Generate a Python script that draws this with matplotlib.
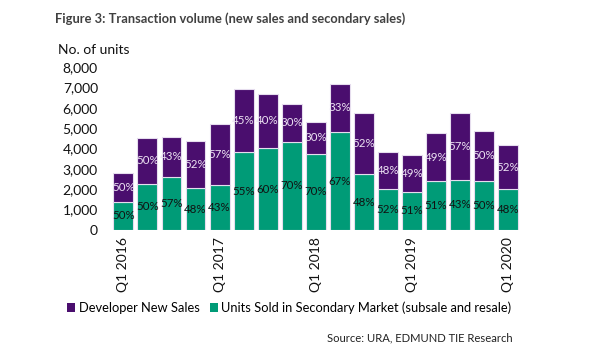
import matplotlib
matplotlib.use("Agg")
import matplotlib.pyplot as plt
import numpy as np

plt.rcParams['font.family'] = ['Lato', 'DejaVu Sans']

quarters = ["Q1 2016", "Q2 2016", "Q3 2016", "Q4 2016",
            "Q1 2017", "Q2 2017", "Q3 2017", "Q4 2017",
            "Q1 2018", "Q2 2018", "Q3 2018", "Q4 2018",
            "Q1 2019", "Q2 2019", "Q3 2019", "Q4 2019",
            "Q1 2020"]
secondary = [1400, 2270, 2600, 2060, 2220, 3820, 4020, 4330, 3740,
             4810, 2750, 2010, 1890, 2400, 2470, 2420, 2010]
total = [2815, 4530, 4580, 4360, 5190, 6900, 6680, 6190, 5320,
         7180, 5740, 3840, 3700, 4740, 5740, 4860, 4150]
developer = [t - s for t, s in zip(total, secondary)]
dev_pct = ["50%", "50%", "43%", "52%", "57%", "45%", "40%", "30%", "30%",
           "33%", "52%", "48%", "49%", "49%", "57%", "50%", "52%"]
sec_pct = ["50%", "50%", "57%", "48%", "43%", "55%", "60%", "70%", "70%",
           "67%", "48%", "52%", "51%", "51%", "43%", "50%", "48%"]
yticks = [0, 1000, 2000, 3000, 4000, 5000, 6000, 7000, 8000]

purple = "#4A0E6E"
green = "#009B77"

fig = plt.figure(figsize=(5.99, 3.60), dpi=100)
ax = fig.add_axes([0.182, 0.361, 0.69, 0.453])

x = np.arange(len(quarters))
w = 0.83
b1 = ax.bar(x, secondary, width=w, color=green, edgecolor="#E6DDEE", linewidth=0.8)
b2 = ax.bar(x, developer, width=w, bottom=secondary, color=purple,
            edgecolor="#E6DDEE", linewidth=0.8)

for i in x:
    ax.text(i, secondary[i] / 2, sec_pct[i], ha="center", va="center",
            fontsize=8.3, color="#111111")
    ax.text(i, secondary[i] + developer[i] / 2, dev_pct[i], ha="center", va="center",
            fontsize=8.3, color="#EDE3F3")

ax.set_xlim(-0.6, len(quarters) - 0.4)
ax.set_ylim(0, 8000)
ax.set_yticks(yticks)
ax.set_yticklabels([f"{v:,}" for v in yticks], fontsize=10, color="#111111")
tick_idx = [i for i, q in enumerate(quarters) if q.startswith("Q1")]
ax.set_xticks(tick_idx)
ax.set_xticklabels([quarters[i] for i in tick_idx], rotation=90, fontsize=10,
                   color="#111111")
ax.tick_params(axis="both", length=0)
ax.tick_params(axis="y", pad=8)
ax.tick_params(axis="x", pad=5)
for s in ax.spines.values():
    s.set_visible(False)

fig.text(0.092, 0.948, "Figure 3: Transaction volume (new sales and secondary sales)",
         fontsize=9.3, fontweight="bold", color="#404040", ha="left", va="center")
fig.text(0.097, 0.862, "No. of units", fontsize=10, color="#111111",
         ha="left", va="center")

leg = fig.legend([b2, b1], ["Developer New Sales",
                            "Units Sold in Secondary Market (subsale and resale)"],
                 loc="center", bbox_to_anchor=(0.483, 0.145), ncol=2, frameon=False,
                 fontsize=9.3, handlelength=0.6, handleheight=0.6, handletextpad=0.3,
                 columnspacing=0.8)
for h in leg.legend_handles:
    h.set_edgecolor("none")

fig.text(0.855, 0.062, "Source: URA, EDMUND TIE Research", fontsize=8.1,
         color="#222222", ha="right", va="center")

fig.savefig("out.png", dpi=100)
